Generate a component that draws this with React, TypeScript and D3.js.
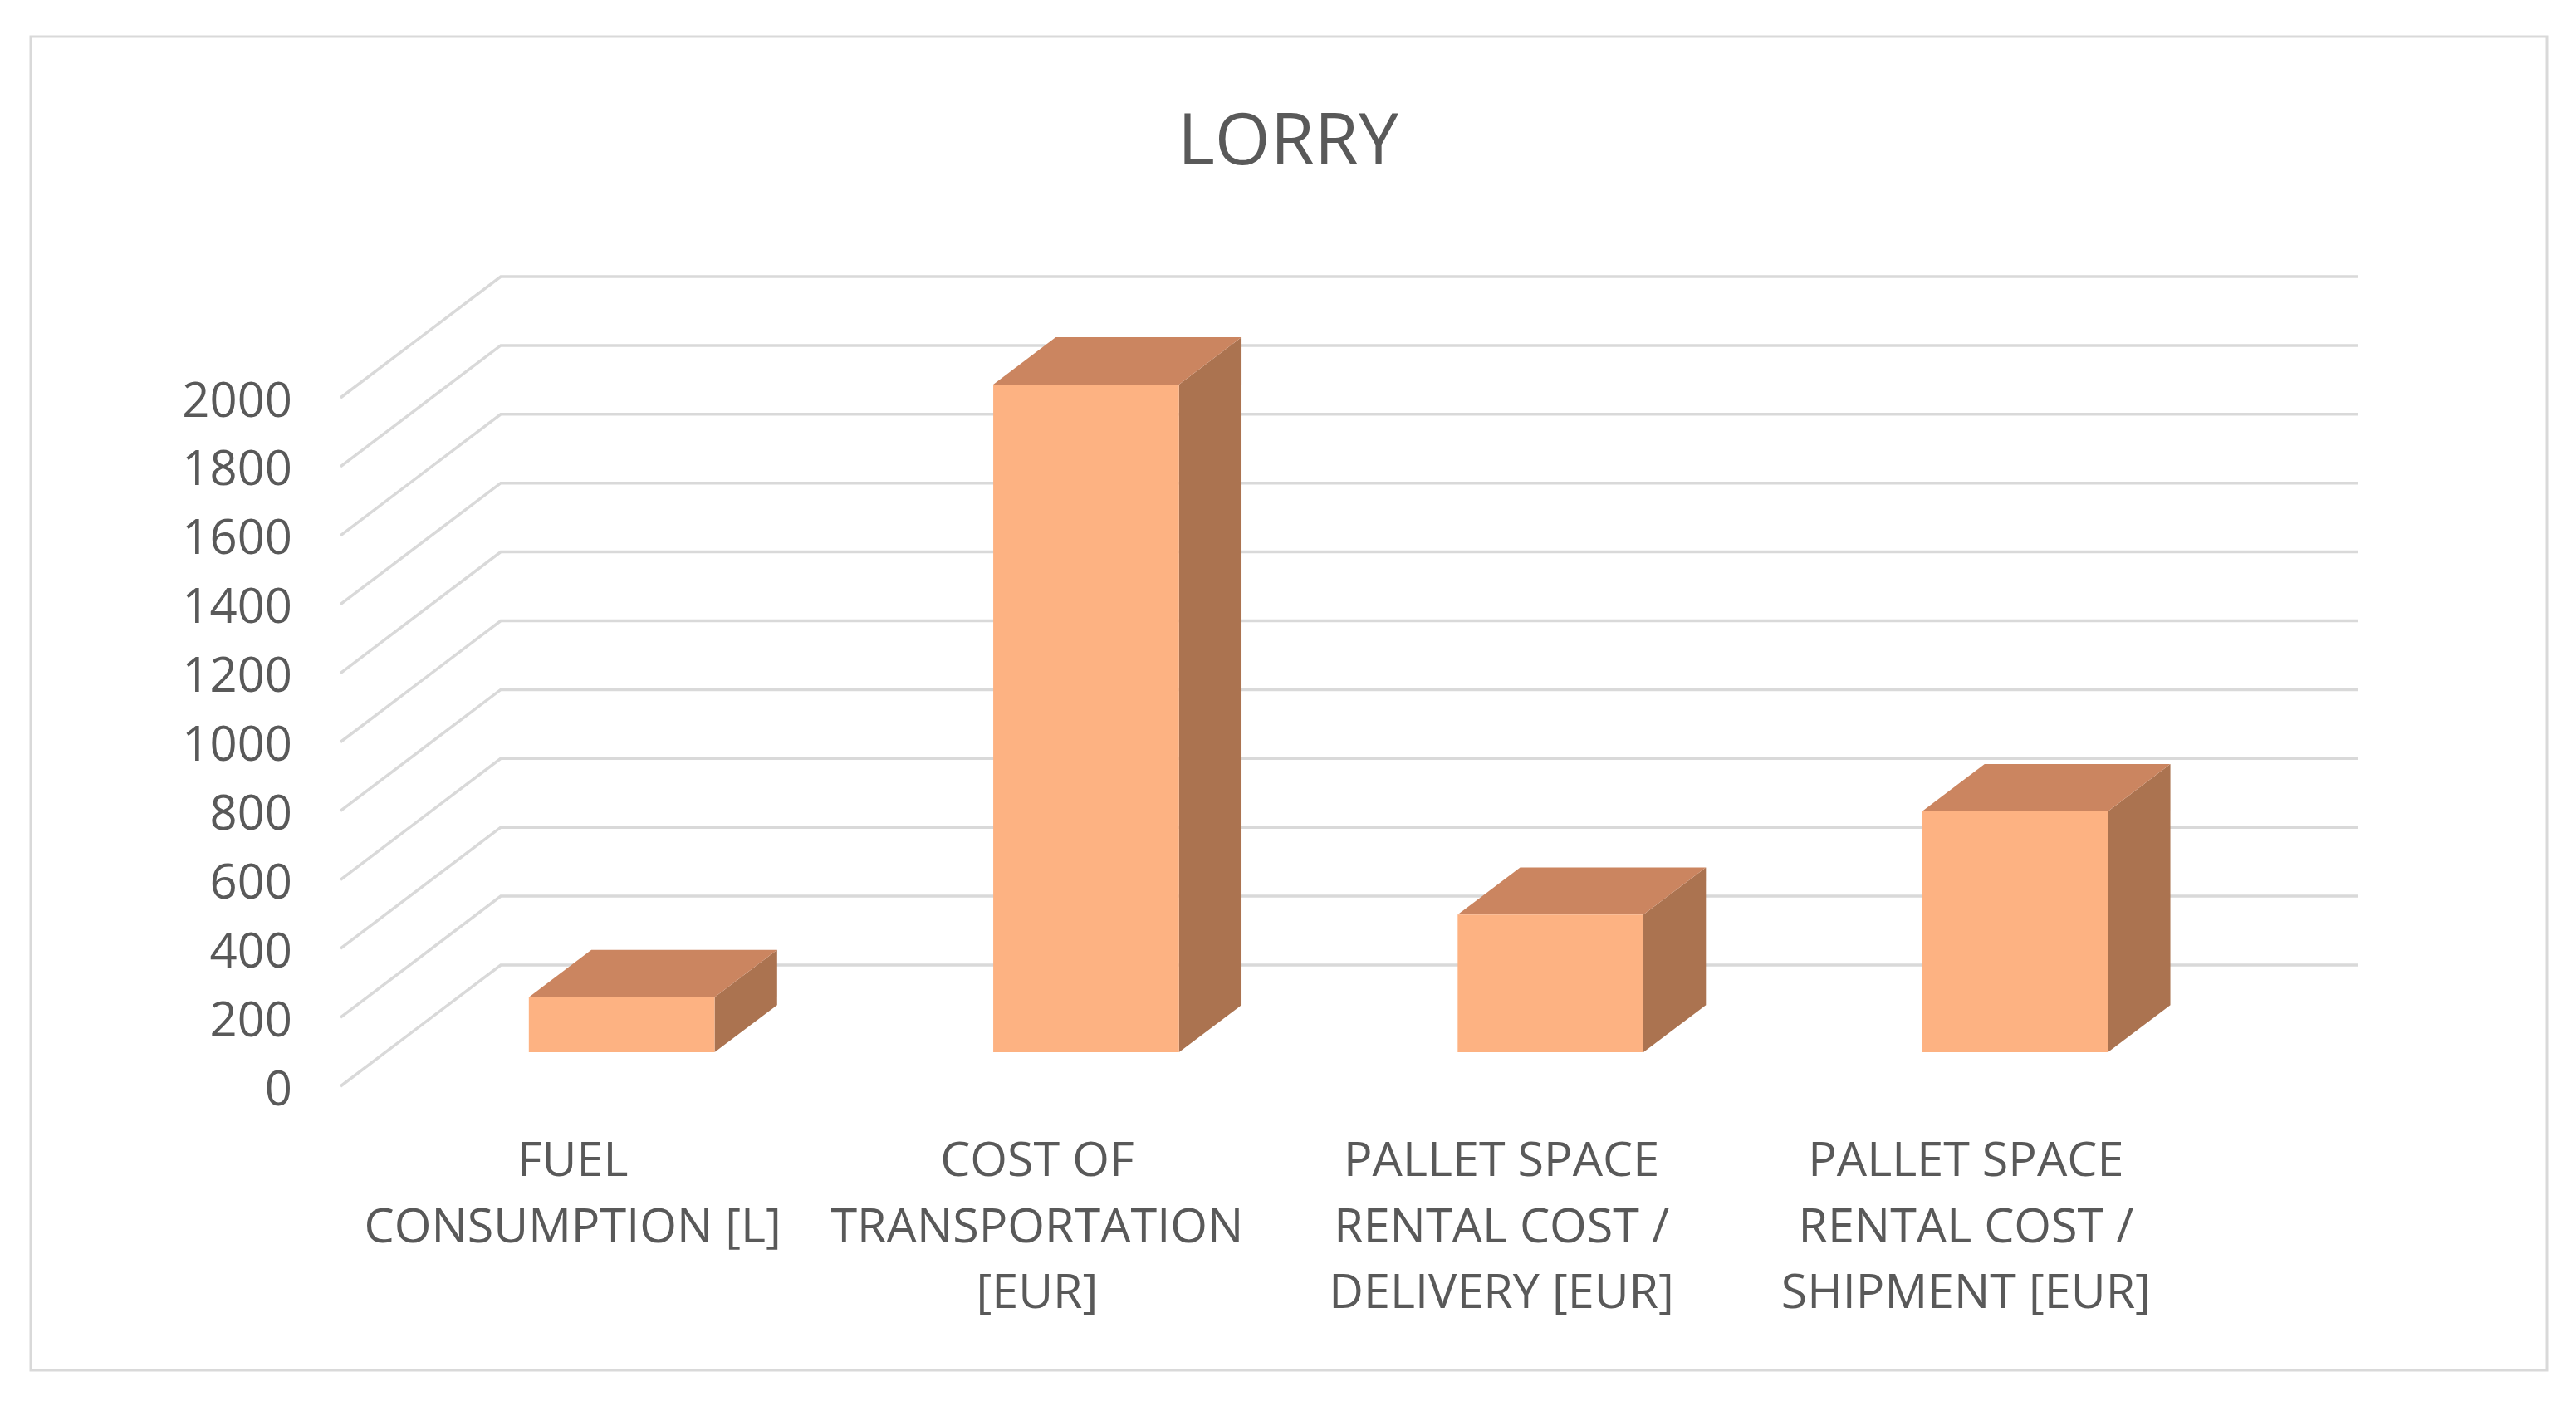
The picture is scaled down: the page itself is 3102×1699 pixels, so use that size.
import React from "react";
import * as d3 from "d3";

const title = "LORRY";
const categories = [
  "FUEL CONSUMPTION [L]",
  "COST OF TRANSPORTATION [EUR]",
  "PALLET SPACE RENTAL COST / DELIVERY [EUR]",
  "PALLET SPACE RENTAL COST / SHIPMENT [EUR]",
];
const categoryLines = [
  ["FUEL", "CONSUMPTION [L]"],
  ["COST OF", "TRANSPORTATION", "[EUR]"],
  ["PALLET SPACE", "RENTAL COST /", "DELIVERY [EUR]"],
  ["PALLET SPACE", "RENTAL COST /", "SHIPMENT [EUR]"],
];
const values = [160, 1940, 400, 700];
const yTicks = [0, 200, 400, 600, 800, 1000, 1200, 1400, 1600, 1800, 2000];

const W = 3102;
const H = 1699;
const DEPTH_DX = 193;
const DEPTH_DY = -146;
const Z0 = 0.28;
const Z1 = 0.67;
const BAR_SHIFT = 5;

export default function App() {
  const x = d3
    .scaleBand<string>()
    .domain(categories)
    .range([410, 2647])
    .paddingInner(0.6)
    .paddingOuter(0.3);
  const slot = d3.scaleBand<string>().domain(categories).range([410, 2647]).padding(0);
  const y = d3.scaleLinear().domain([0, 2000]).range([1308, 479]);

  const P = (px: number, py: number, z: number): [number, number] => [px + z * DEPTH_DX, py + z * DEPTH_DY];
  const poly = (pts: [number, number][]) => pts.map((p) => p.join(",")).join(" ");

  const x0 = x.range()[0];
  const x1 = x.range()[1];

  const font = "'Open Sans', 'Noto Sans', sans-serif";
  const textColor = "#595959";

  return (
    <svg
      width={W}
      height={H}
      style={{ position: "absolute", left: 0, top: 0, display: "block", background: "#fff" }}
    >
      <rect x={0} y={0} width={W} height={H} fill="#ffffff" />
      <rect x={37} y={44} width={3030} height={1606} fill="#ffffff" stroke="#d9d9d9" strokeWidth={3} />
      <text x={1551} y={198} textAnchor="middle" fontFamily={font} fontSize={86} fill={textColor}>
        {title}
      </text>

      {/* gridlines on side and back walls */}
      {yTicks.map((t) => {
        const a = P(x0, y(t), 0);
        const b = P(x0, y(t), 1);
        const c = P(x1, y(t), 1);
        return (
          <polyline
            key={"g" + t}
            points={poly([a, b, c])}
            fill="none"
            stroke="#d9d9d9"
            strokeWidth={3.5}
          />
        );
      })}

      {/* y labels */}
      {yTicks.map((t) => (
        <text
          key={"yl" + t}
          x={352}
          y={y(t)}
          textAnchor="end"
          dominantBaseline="central"
          fontFamily={font}
          fontSize={58}
          fill={textColor}
        >
          {t}
        </text>
      ))}

      {/* bars */}
      {categories.map((c, i) => {
        const bx = x(c)! + BAR_SHIFT;
        const bw = x.bandwidth();
        const v = values[i];
        const yb = y(0);
        const yt = y(v);
        const front = [P(bx, yt, Z0), P(bx + bw, yt, Z0), P(bx + bw, yb, Z0), P(bx, yb, Z0)];
        const top = [P(bx, yt, Z0), P(bx + bw, yt, Z0), P(bx + bw, yt, Z1), P(bx, yt, Z1)];
        const side = [P(bx + bw, yt, Z0), P(bx + bw, yt, Z1), P(bx + bw, yb, Z1), P(bx + bw, yb, Z0)];
        return (
          <g key={"b" + i}>
            <polygon points={poly(side)} fill="#AB7350" />
            <polygon points={poly(top)} fill="#CB8560" />
            <polygon points={poly(front)} fill="#FDB282" />
          </g>
        );
      })}

      {/* x labels */}
      {categories.map((c, i) => {
        const cx = slot(c)! + slot.bandwidth() / 2;
        return (
          <text
            key={"xl" + i}
            x={cx}
            textAnchor="middle"
            fontFamily={font}
            fontSize={57.5}
            fill={textColor}
          >
            {categoryLines[i].map((ln, j) => (
              <tspan key={j} x={cx} y={1416 + j * 79.5}>
                {ln}
              </tspan>
            ))}
          </text>
        );
      })}
    </svg>
  );
}
